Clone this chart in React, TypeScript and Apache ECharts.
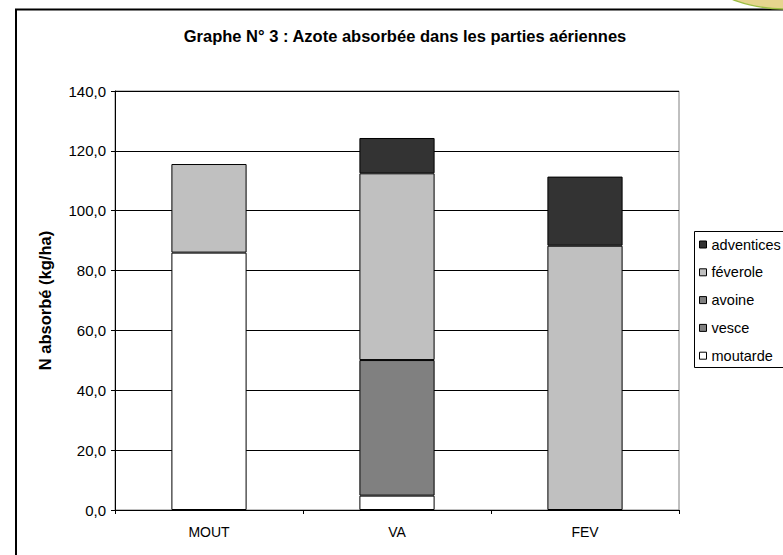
import React, { useEffect, useRef } from "react";
import * as echarts from "echarts";

const categories = ["MOUT", "VA", "FEV"];
const moutarde = [86.0, 4.8, 0];
const vesce = [0, 45.3, 0];
const avoine = [0, 0, 0];
const feverole = [29.6, 62.4, 88.3];
const adventices = [0, 11.8, 23.1];
const legendOrder = ["adventices", "féverole", "avoine", "vesce", "moutarde"];

const FONT = "'Liberation Sans', Arial, sans-serif";

export default function App() {
  const ref = useRef<HTMLDivElement>(null);
  useEffect(() => {
    if (!ref.current) return;
    const chart = echarts.init(ref.current, null, { renderer: "svg" });
    const mk = (name: string, data: number[], color: string) => ({
      name,
      type: "bar",
      stack: "total",
      data: data.map((v) => (v === 0 ? "-" : v)),
      barWidth: "40%",
      itemStyle: { color, borderColor: "#000", borderWidth: 1 },
      emphasis: { disabled: true },
    });
    chart.setOption({
      animation: false,
      backgroundColor: "#fff",
      textStyle: { fontFamily: FONT },
      title: {
        text: "Graphe N° 3 : Azote absorbée dans les parties aériennes",
        left: 400,
        textAlign: "center",
        top: 22,
        textStyle: { fontFamily: FONT, fontSize: 16.5, fontWeight: "bold", color: "#000" },
      },
      legend: {
        orient: "vertical",
        left: 694,
        top: 232,
        itemWidth: 7,
        itemHeight: 7,
        itemGap: 12.8,
        icon: "rect",
        data: legendOrder,
        itemStyle: { borderColor: "#000", borderWidth: 1 },
        textStyle: { fontFamily: FONT, fontSize: 14.5, color: "#000" },
        selectedMode: false,
      },
      grid: {
        left: 115,
        top: 91,
        width: 564,
        height: 419,
        show: true,
        borderColor: "#808080",
        borderWidth: 1,
        backgroundColor: "transparent",
      },
      xAxis: {
        type: "category",
        data: categories,
        axisLine: { lineStyle: { color: "#000", width: 1 } },
        axisTick: { show: true, length: 4, lineStyle: { color: "#000" } },
        axisLabel: { fontFamily: FONT, fontSize: 14, color: "#000", margin: 15 },
      },
      yAxis: {
        type: "value",
        min: 0,
        max: 140,
        interval: 20,
        name: "N absorbé (kg/ha)",
        nameLocation: "middle",
        nameGap: 62,
        nameTextStyle: { fontFamily: FONT, fontSize: 16.5, fontWeight: "bold", color: "#000" },
        axisLine: { show: true, lineStyle: { color: "#000", width: 1 } },
        axisTick: { show: true, length: 4, lineStyle: { color: "#000" } },
        axisLabel: {
          fontFamily: FONT,
          fontSize: 15,
          color: "#000",
          margin: 9,
          formatter: (v: number) => v.toFixed(1).replace(".", ","),
        },
        splitLine: { show: true, lineStyle: { color: "#000", width: 1 } },
      },
      series: [
        mk("moutarde", moutarde, "#ffffff"),
        mk("vesce", vesce, "#808080"),
        mk("avoine", avoine, "#808080"),
        mk("féverole", feverole, "#c0c0c0"),
        mk("adventices", adventices, "#333333"),
      ],
      graphic: [
        {
          type: "rect",
          z: -1,
          shape: { x: 16, y: 9.5, width: 900, height: 700 },
          style: { fill: "none", stroke: "#000", lineWidth: 2 },
          silent: true,
        },
        {
          type: "rect",
          z: -1,
          shape: { x: 694.5, y: 231.5, width: 200, height: 136 },
          style: { fill: "#fff", stroke: "#000", lineWidth: 1 },
          silent: true,
        },
        {
          type: "ellipse",
          z: 10,
          shape: { cx: 790, cy: -18, rx: 75, ry: 27 },
          style: { fill: "#e6d58e", stroke: "#9dbf45", lineWidth: 1.5 },
          silent: true,
        },
      ],
    });
    return () => chart.dispose();
  }, []);
  return (
    <div
      ref={ref}
      style={{ position: "fixed", left: 0, top: 0, width: 783, height: 555 }}
    />
  );
}
